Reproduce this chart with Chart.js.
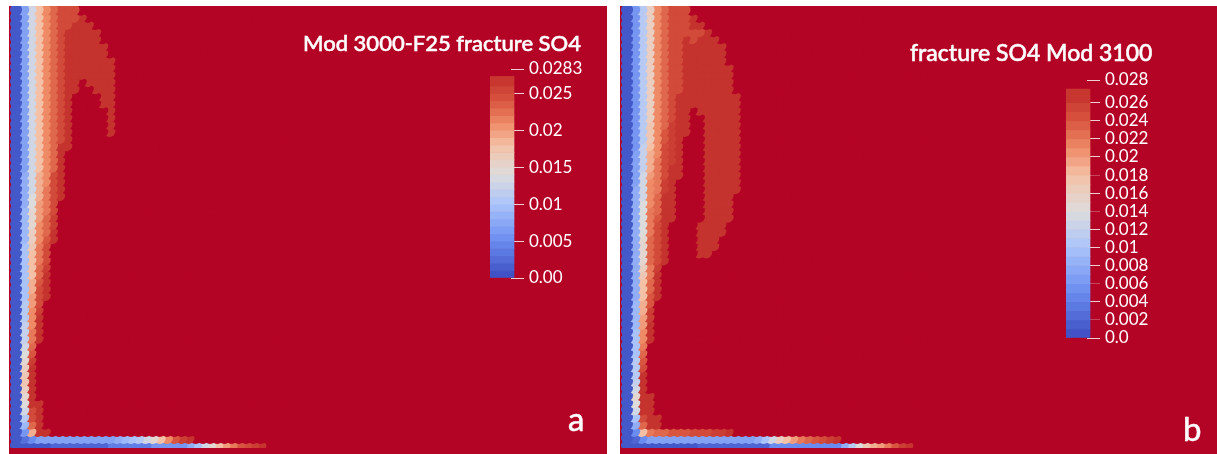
<!DOCTYPE html>
<html>
<head>
<meta charset="utf-8">
<title>fracture SO4</title>
<script src="https://cdn.jsdelivr.net/npm/chart.js@4/dist/chart.umd.min.js"></script>
<style>
  body { margin: 0; background: #fff; }
  canvas { position: absolute; filter: blur(0.6px); }
  /* field canvases are 12px bigger on the top and left, cropped back here */
  #fieldA { left: -3px; top: -6px; background: #b40426; clip-path: inset(12px 0 0 12px); }
  #fieldB { left: 608px; top: -6px; background: #b40426; clip-path: inset(12px 0 0 12px); }
  #barA { left: 490px; top: 59px; }
  #barB { left: 1066px; top: 70px; }
</style>
</head>
<body>
<canvas id="fieldA" width="610" height="460"></canvas>
<canvas id="fieldB" width="609" height="460"></canvas>
<canvas id="barA" width="110" height="229"></canvas>
<canvas id="barB" width="110" height="278"></canvas>
<script>
// =============================
// DATA (SO4 x 1000, row by row from the left wall, missing cells are saturated)
// =============================
const rowsA = [
  [1,7,13,18,21,23,25,25,25],
  [1,7,13,18,21,23,25,25,25,27],
  [1,7,13,18,21,23,25,25,27,27,27],
  [1,7,13,18,21,23,25,27,27,27,27,27],
  [1,7,13,18,21,23,25,27,27,27,27,27],
  [1,7,13,18,21,23,25,27,27,27,27,27,27],
  [1,7,13,18,21,23,25,27,27,27,27,27,27],
  [1,7,13,18,21,23,25,27,27,27,27,27,27,27],
  [1,7,13,18,21,23,25,27,27,27,27,27,27,27],
  [1,7,13,18,21,23,25,27,27,27,27,27,27,27],
  [1,7,13,18,21,23,25,27,27,28,27,27,27,27],
  [1,7,13,18,21,23,25,27,27,28,28,27,27,27],
  [1,7,13,18,21,23,25,27,28,28,28,28,27,27],
  [1,7,13,18,21,23,25,27,28,28,28,28,27,27],
  [1,7,13,18,21,23,25,27,28,28,28,28,28,27],
  [1,7,13,18,21,23,25,27,28,28,28,28,28,27],
  [1,7,13,18,21,23,25,27,28,28,28,28,28,27],
  [1,7,13,18,21,23,25,27,28,28,28,28,28,27],
  [1,7,13,18,21,23,25,27],
  [1,7,13,18,21,23,27,27],
  [1,7,13,18,21,23,27],
  [1,7,13,18,21,23,27],
  [1,7,13,18,21,23,27],
  [1,8,13,19,21,25,27],
  [1,8,13,19,21,25,27],
  [1,8,13,19,22,25,27],
  [1,8,14,19,22,25,27],
  [1,8,14,20,22,25],
  [1,9,15,20,22,25],
  [1,9,15,20,23,26],
  [1,9,15,21,23,26],
  [1,9,16,21,23,27],
  [1,9,16,21,24,27],
  [1,10,17,22,25],
  [1,10,18,22,25],
  [1,10,18,22,25],
  [1,10,18,23,26],
  [1,10,18,23,27],
  [1,10,19,24,27],
  [1,10,19,25,27],
  [1,10,20,25,27],
  [1,11,20,25],
  [1,11,21,26],
  [1,11,21,27],
  [1,12,21,27],
  [1,12,22,27],
  [1,12,22,27],
  [1,13,23],
  [1,14,24],
  [1,15,26],
  [1,16,27],
  [1,17,27],
  [1,17,27],
  [1,16,27],
  [1,15,27],
  [1,14,27,27],
  [1,13,25,27],
  [1,11,25,27],
  [1,9,23,27],
  [1,6,19,27,27],
  [1,3,5,7,7,7,7,7,7,7,7,7,7,7,8,9,10,11,13,15,18,21,24,26,27],
  [1,1,1,1,1,2,2,2,2,2,2,2,2,4,4,4,4,4,4,6,6,6,6,6,8,10,13,15,18,20,22,24,25,26,27]
];

const rowsB = [
  [1,6,11,16,21,23,25,25,25],
  [1,6,11,16,21,23,25,25,25,27],
  [1,6,11,16,21,23,25,25,25,27,27],
  [1,6,11,16,21,23,25,25,25,25,25,27],
  [1,6,11,16,21,23,25,25,27,25,27,27,27],
  [1,6,11,16,21,23,25,25,27,27,27,27,27,27],
  [1,6,11,16,21,23,25,25,27,27,27,27,27,27],
  [1,6,11,16,21,23,25,25,27,27,27,27,27,27],
  [1,6,11,16,21,23,25,25,27,27,27,27,27,27,27],
  [1,6,11,16,21,23,25,25,27,27,27,27,27,27,27],
  [1,6,11,16,21,23,25,25,27,27,27,27,27,27,27],
  [1,6,11,16,21,23,25,25,27,27,27,27,27,27,27],
  [1,6,11,16,21,23,25,27,27,27,27,27,27,27,27,27],
  [1,6,11,16,21,23,25,27,27,27,27,27,27,27,27,27],
  [1,6,11,16,21,23,25,27,27,28,27,27,27,27,27,27],
  [1,6,11,16,21,23,25,27,27,28,28,27,27,27,27,27],
  [1,6,11,17,21,23,26,27,27,28,28,27,27,27,27,27],
  [1,6,11,17,21,24,26,27,27,28,28,27,27,27,27,27],
  [1,6,11,17,21,24,26,27,28,28,28,27,27,27,27,27],
  [1,6,12,18,21,25,26,27,28,28,28,27,27,27,27,27],
  [1,7,12,19,21,25,26,27,28,28,28,27,27,27,27,27],
  [1,7,12,19,22,25,26,27,28,28,28,27,27,27,27,27],
  [1,7,12,19,22,25,27,27,28,28,28,27,27,27,27,27],
  [1,7,13,20,22,25,27,27,28,28,28,27,27,27,27,27],
  [1,7,13,21,22,26,27,28,28,28,28,27,27,27,27,27],
  [1,8,13,21,22,26,27,28,28,28,28,27,27,27,27,27],
  [1,8,13,21,23,27,27,28,28,28,28,27,27,27,27],
  [1,8,14,21,23,27,27,28,28,28,28,27,27,27,27],
  [1,8,14,22,23,27,27,28,28,28,28,27,27,27,27],
  [1,8,14,22,24,27,27,28,28,28,28,27,27,27,27],
  [1,8,14,22,25,27,28,28,28,28,27,27,27,27],
  [1,8,14,22,25,27,28,28,28,28,27,27,27,27],
  [1,8,15,23,25,27,28,28,28,28,27,27,27],
  [1,8,15,23,25,27,28,28,28,28,27,27,27],
  [1,8,15,23,25,27,28,28,28,28,27,27],
  [1,8,15,23,25,27],
  [1,8,16,22,26],
  [1,8,17,22,27],
  [1,8,18,23,27],
  [1,8,18,23,27],
  [1,8,18,24,27],
  [1,9,19,24],
  [1,9,19,26],
  [1,9,20,26],
  [1,9,20,27],
  [1,10,21,27],
  [1,10,21,27],
  [1,10,22],
  [1,10,23],
  [1,11,24],
  [1,11,25],
  [1,11,27],
  [1,12,27],
  [1,13,27],
  [1,15,27,27],
  [1,14,27,27],
  [1,13,27,27],
  [1,10,25,27,27],
  [1,8,23,27,27],
  [1,5,18,22,23,23,24,24,24,25,25,25,26,26,27],
  [1,2,5,7,7,7,7,7,7,7,7,7,7,7,7,7,7,7,8,10,13,16,18,20,22,23,24,25,26,27],
  [1,1,1,1,1,1,1,1,1,1,2,2,2,2,2,2,2,2,2,2,5,5,5,5,5,5,5,5,5,5,8,11,14,17,19,20,22,24,26,27]
];

const tickValuesA = [0.0283, 0.025, 0.02, 0.015, 0.01, 0.005, 0];
const tickLabelsA = ['0.0283', '0.025', '0.02', '0.015', '0.01', '0.005', '0.00'];
const tickValuesB = [0.0285, 0.026, 0.024, 0.022, 0.02, 0.018, 0.016, 0.014, 0.012, 0.01, 0.008, 0.006, 0.004, 0.002, 0];
const tickLabelsB = ['0.028', '0.026', '0.024', '0.022', '0.02', '0.018', '0.016', '0.014', '0.012', '0.01', '0.008', '0.006', '0.004', '0.002', '0.0'];

// colour bands of the two legends (value at the band edges)
const bandEdgesA = [0, 0.001, 0.002, 0.003, 0.004, 0.005, 0.006, 0.007, 0.008, 0.009, 0.01, 0.011, 0.012, 0.013, 0.014, 0.015, 0.016, 0.017, 0.018, 0.019, 0.02, 0.021, 0.022, 0.023, 0.024, 0.025, 0.026, 0.0273];
const bandEdgesB = [0, 0.001, 0.002, 0.003, 0.004, 0.005, 0.006, 0.007, 0.008, 0.009, 0.01, 0.011, 0.012, 0.013, 0.014, 0.015, 0.016, 0.017, 0.018, 0.019, 0.02, 0.021, 0.022, 0.023, 0.024, 0.025, 0.026, 0.0275];

// colour map stops: value x 1000 -> rgb
const mapValues = [0, 5, 10, 14, 18, 21, 24, 27, 28];
const mapColors = [
  [59, 76, 192], [106, 139, 239], [170, 196, 251], [221, 220, 220],
  [244, 192, 166], [238, 138, 102], [216, 85, 63], [197, 51, 46], [180, 4, 38]
];

const CELL = 7.33;      // px per grid cell
const DOT = 6;          // circles overlap, the lower value and upper row stay on top
const CROP = 12;        // hidden margin of the field canvas
const SATURATED = 28;
const COLUMNS = 44;     // columns that get a point, past this it's flat background

function colorFor(v) {
  for (let i = 1; i < mapValues.length; i++) {
    if (v <= mapValues[i]) {
      const f = (v - mapValues[i - 1]) / (mapValues[i] - mapValues[i - 1]);
      const a = mapColors[i - 1], b = mapColors[i];
      const c = a.map((n, k) => Math.round(n + (b[k] - n) * f));
      return `rgb(${c[0]},${c[1]},${c[2]})`;
    }
  }
  return 'rgb(180,4,38)';
}

// =============================
// FIELD (one point per grid cell)
// =============================
function drawField(id, rows, label) {
  const canvas = document.getElementById(id);
  const points = [];
  const colors = [];

  // bottom row first, right to left, so every cell edge lands on the grid
  for (let r = rows.length - 1; r >= 0; r--) {
    for (let c = COLUMNS - 1; c >= 0; c--) {
      points.push({ x: c, y: r });
      colors.push(colorFor(c < rows[r].length ? rows[r][c] : SATURATED));
    }
  }

  const xMin = (DOT - CROP) / CELL - 1;
  const yMin = (DOT - 4 - CROP) / CELL;

  new Chart(canvas.getContext('2d'), {
    type: 'scatter',
    data: {
      datasets: [{
        data: points,
        pointStyle: 'circle',
        pointRadius: DOT,
        pointBorderWidth: 0,
        pointBackgroundColor: colors
      }]
    },
    options: {
      responsive: false,
      animation: false,
      events: [],
      plugins: { legend: { display: false }, tooltip: { enabled: false } },
      layout: { padding: 0 },
      scales: {
        x: { display: false, min: xMin, max: xMin + canvas.width / CELL },
        y: { display: false, reverse: true, min: yMin, max: yMin + canvas.height / CELL }
      }
    },
    plugins: [label]
  });
}

function textPlugin(items) {
  return {
    id: 'panelText',
    afterDraw(chart) {
      const ctx = chart.ctx;
      ctx.save();
      ctx.fillStyle = '#fff';
      ctx.strokeStyle = '#fff';
      ctx.lineWidth = 0.5;
      ctx.textBaseline = 'alphabetic';
      items.forEach(t => {
        ctx.font = t.font;
        ctx.fillText(t.text, t.x + CROP, t.y + CROP);
        ctx.strokeText(t.text, t.x + CROP, t.y + CROP);
      });
      ctx.restore();
    }
  };
}

// =============================
// COLOUR BAR WITH ITS AXIS
// =============================
function drawBar(id, edges, tickValues, tickLabels, faint) {
  const canvas = document.getElementById(id);
  const bars = [];
  const colors = [];

  for (let i = 0; i < edges.length - 1; i++) {
    bars.push({ x: 12.5, y: [edges[i], edges[i + 1]] });
    colors.push(colorFor((edges[i] + edges[i + 1]) * 500));
  }

  new Chart(canvas.getContext('2d'), {
    type: 'bar',
    data: {
      datasets: [{
        data: bars,
        backgroundColor: colors,
        borderWidth: 0,
        barThickness: 25,
        clip: false
      }]
    },
    options: {
      responsive: false,
      animation: false,
      events: [],
      plugins: { legend: { display: false }, tooltip: { enabled: false } },
      layout: { padding: { top: 10, bottom: 10 } },
      scales: {
        x: { type: 'linear', display: false, min: 0, max: 21 },
        y: {
          position: 'right',
          min: 0,
          max: tickValues[0],
          afterBuildTicks: s => { s.ticks = tickValues.map(v => ({ value: v })); },
          afterFit: s => {
            s.width = canvas.width - 21;
            s.paddingTop = 0;
            s.paddingBottom = 0;
          },
          border: { display: false },
          grid: {
            drawOnChartArea: false,
            tickLength: 13,
            lineWidth: 1,
            tickColor: c => faint.includes(c.tick && c.tick.value)
              ? 'rgba(255,255,255,0.25)' : 'rgba(255,255,255,0.8)'
          },
          ticks: {
            autoSkip: false,
            padding: 5,
            color: '#fff',
            font: { family: 'Lato', size: 17 },
            callback: (v, i) => tickLabels[i]
          }
        }
      }
    }
  });
}

drawField('fieldA', rowsA, textPlugin([
  { text: 'Mod 3000-F25 fracture SO4', x: 294, y: 45, font: '500 22px "Lato"' },
  { text: 'a', x: 559, y: 425, font: '33px "Lato"' }
]));
drawField('fieldB', rowsB, textPlugin([
  { text: 'fracture SO4 Mod 3100', x: 290, y: 55, font: '500 23px "Lato"' },
  { text: 'b', x: 563, y: 435, font: '33px "Lato"' }
]));
drawBar('barA', bandEdgesA, tickValuesA, tickLabelsA, []);
drawBar('barB', bandEdgesB, tickValuesB, tickLabelsB, [0.018, 0.014, 0.006, 0.002]);
</script>
</body>
</html>
